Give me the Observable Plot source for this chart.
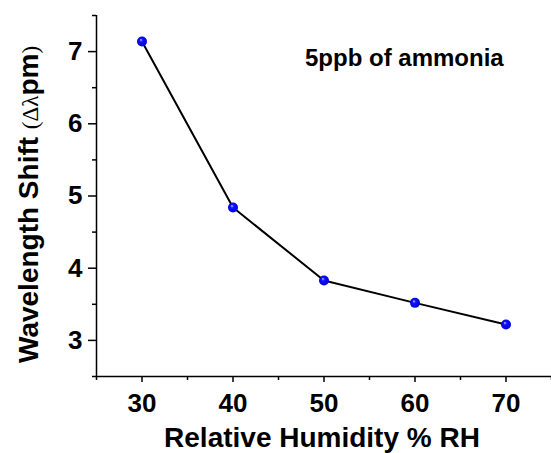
<!DOCTYPE html>
<html><head><meta charset="utf-8">
<script src="https://cdn.jsdelivr.net/npm/d3@7"></script>
<script src="https://cdn.jsdelivr.net/npm/@observablehq/plot@0.6"></script>
<style>body{margin:0;background:#fff}</style>
</head><body><div id="chart"></div>
<script>
const humidity = [30, 40, 50, 60, 70];
const shift = [7.14, 4.84, 3.83, 3.52, 3.22];
const xMajor = [30, 40, 50, 60, 70];
const xMinor = [25, 35, 45, 55, 65, 75];
const yMajor = [3, 4, 5, 6, 7];
const yMinor = [2.5, 3.5, 4.5, 5.5, 6.5, 7.5];
const xTitle = "Relative Humidity % RH";
const yTitleMain = "Wavelength Shift ";
const yTitleOpen = "(Δλ";
const yTitleUnit = "pm";
const yTitleClose = ")";
const annotation = "5ppb of ammonia";

const data = humidity.map((h, i) => ({h, s: shift[i]}));
const font = "'Liberation Sans', Arial, sans-serif";

const plot = Plot.plot({
  width: 551, height: 453,
  marginLeft: 96, marginRight: 0, marginTop: 15, marginBottom: 77,
  style: {fontFamily: font, fontWeight: "bold", background: "white", color: "black"},
  x: {domain: [25, 75]},
  y: {domain: [2.5, 7.5]},
  marks: [
    Plot.axisX({ticks: xMinor, tickSize: 4, text: null, strokeWidth: 1.5, label: null}),
    Plot.axisX({ticks: xMajor, tickSize: 6, tickPadding: 11, fontSize: 26, strokeWidth: 1.5, label: null, tickFormat: d => String(d)}),
    Plot.axisY({ticks: yMinor, tickSize: 4, text: null, strokeWidth: 1.5, label: null}),
    Plot.axisY({ticks: yMajor, tickSize: 8, tickPadding: 6, fontSize: 26, strokeWidth: 1.5, label: null, tickFormat: d => String(d)}),
    Plot.ruleY([2.5], {strokeWidth: 1.5}),
    Plot.ruleX([25], {strokeWidth: 1.5}),
    Plot.line(data, {x: "h", y: "s", stroke: "black", strokeWidth: 2}),
    Plot.dot(data, {x: "h", y: "s", r: 5, fill: "url(#ball)", stroke: "none"})
  ]
});

const svg = d3.select(plot);
const grad = svg.insert("defs", ":first-child").append("radialGradient")
  .attr("id", "ball").attr("cx", "50%").attr("cy", "50%").attr("r", "55%")
  .attr("fx", "38%").attr("fy", "32%");
grad.append("stop").attr("offset", "0%").attr("stop-color", "#c8ccff");
grad.append("stop").attr("offset", "30%").attr("stop-color", "#1010ff");
grad.append("stop").attr("offset", "100%").attr("stop-color", "#0000d8");

svg.append("text")
  .attr("x", 322).attr("y", 447)
  .attr("text-anchor", "middle")
  .attr("font-size", 28).attr("font-weight", "bold")
  .attr("font-family", font).attr("fill", "black")
  .text(xTitle);

const yt = svg.append("text")
  .attr("transform", "translate(38,363) rotate(-90)")
  .attr("text-anchor", "start")
  .attr("font-family", font).attr("fill", "black");
yt.append("tspan").attr("font-size", 28).attr("font-weight", "bold").text(yTitleMain);
yt.append("tspan").attr("font-size", 23).attr("font-weight", "normal").attr("font-family", "'Liberation Serif', serif").text(yTitleOpen);
yt.append("tspan").attr("font-size", 28).attr("font-weight", "bold").text(yTitleUnit);
yt.append("tspan").attr("font-size", 23).attr("font-weight", "normal").attr("font-family", "'Liberation Serif', serif").text(yTitleClose);

svg.append("text")
  .attr("x", 305).attr("y", 66)
  .attr("text-anchor", "start")
  .attr("font-size", 24).attr("font-weight", "bold")
  .attr("font-family", font).attr("fill", "black")
  .text(annotation);

document.getElementById("chart").append(plot);
</script>
</body></html>
